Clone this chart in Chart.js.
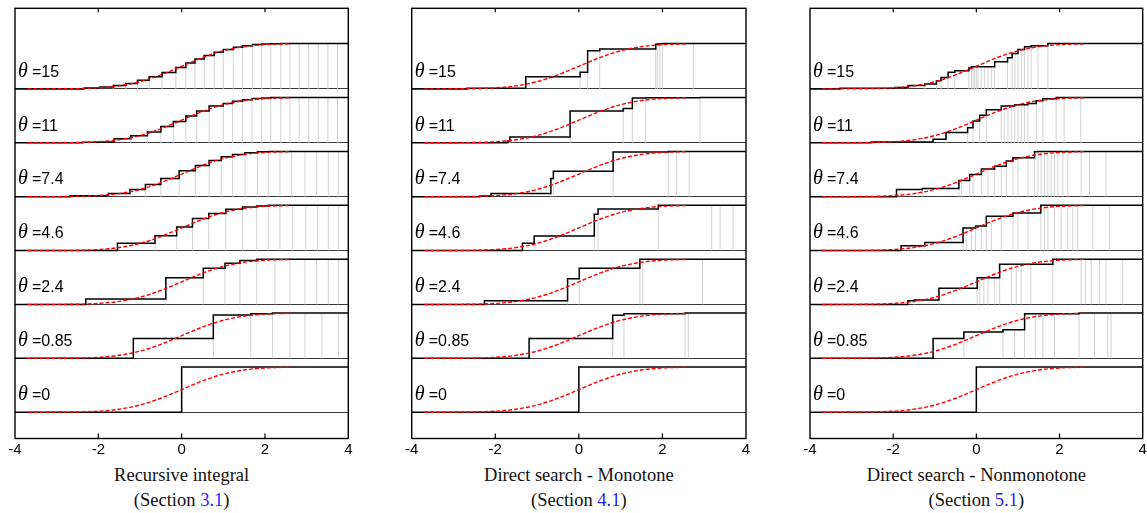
<!DOCTYPE html>
<html>
<head>
<meta charset="utf-8">
<script src="https://cdn.jsdelivr.net/npm/chart.js@4.4.1/dist/chart.umd.min.js"></script>
<style>
  body { margin: 0; background: #fff; width: 1147px; height: 513px; position: relative; overflow: hidden; }
  .panel { position: absolute; top: 0; }
  .cap { position: absolute; width: 360px; text-align: center; font-family: "Liberation Serif", "Times New Roman", serif;
         font-size: 18.5px; line-height: 18.5px; color: #111; white-space: nowrap; }
  .cap span { color: #1f1fff; }
</style>
</head>
<body>
<script>
// row labels, top to bottom
const thetaLabels = ['15', '11', '7.4', '4.6', '2.4', '0.85', '0'];
const xTicks = [-4, -2, 0, 2, 4];

// red dashed reference curve (same in every row)
const cdfX = [-3.7, -3.0, -2.5, -2.0, -1.5, -1.0, -0.5, 0.0, 0.5, 1.0, 1.5, 2.0, 2.6];
const cdfY = [0.0, 0.002, 0.006, 0.023, 0.067, 0.159, 0.309, 0.5, 0.691, 0.841, 0.933, 0.977, 0.995];

// Recursive integral - step locations and heights per row
const recKnots = [
  [-2.34, -1.96, -1.64, -1.34, -1.06, -0.78, -0.47, -0.14, 0.10, 0.32, 0.54, 0.78, 1.00, 1.24, 1.46, 1.70, 1.92, 2.14, 2.38, 2.60, 2.82, 3.05, 3.28, 3.51, 3.74],
  [-2.38, -2.00, -1.62, -1.22, -0.82, -0.50, -0.20, 0.10, 0.36, 0.66, 1.00, 1.22, 1.46, 1.69, 1.92, 2.14, 2.38, 2.60, 2.82, 3.05, 3.28, 3.51, 3.74],
  [-2.68, -1.76, -1.24, -0.87, -0.50, -0.06, 0.33, 0.66, 0.95, 1.22, 1.52, 1.82, 2.08, 2.36, 2.64, 2.96, 3.24, 3.52, 3.76],
  [-1.54, -0.64, -0.12, 0.26, 0.65, 1.06, 1.46, 1.80, 2.08, 2.36, 2.66, 2.98, 3.26, 3.52, 3.76],
  [-2.30, -0.38, 0.52, 1.04, 1.40, 1.80, 2.24, 2.60, 2.96, 3.24, 3.52, 3.76],
  [-1.16, 0.76, 1.66, 2.18, 2.60, 2.96, 3.37, 3.76],
  [0.0]
];
const recLevels = [
  [0.02, 0.04, 0.075, 0.12, 0.19, 0.27, 0.36, 0.47, 0.57, 0.66, 0.74, 0.81, 0.87, 0.92, 0.955, 0.98, 0.99, 0.996, 1, 1, 1, 1, 1, 1, 1],
  [0.01, 0.02, 0.09, 0.155, 0.24, 0.36, 0.47, 0.59, 0.70, 0.81, 0.87, 0.92, 0.95, 0.98, 0.99, 1, 1, 1, 1, 1, 1, 1, 1],
  [0.02, 0.07, 0.16, 0.27, 0.40, 0.57, 0.69, 0.80, 0.88, 0.93, 0.97, 0.99, 1, 1, 1, 1, 1, 1, 1],
  [0.16, 0.33, 0.52, 0.71, 0.82, 0.91, 0.96, 0.985, 1, 1, 1, 1, 1, 1, 1],
  [0.12, 0.59, 0.80, 0.91, 0.97, 1, 1, 1, 1, 1, 1, 1],
  [0.44, 0.955, 0.985, 1, 1, 1, 1, 1],
  [1]
];

// Direct search - Monotone
const monoKnots = [
  [-2.68, -1.27, 0.03, 0.21, 0.50, 1.84, 1.88, 1.94, 2.00, 2.74],
  [-1.71, -1.65, -0.21, 1.06, 1.28, 1.60, 2.90],
  [-2.37, -2.10, -0.67, -0.61, 0.82, 2.14, 2.34, 2.64],
  [-1.35, -1.07, 0.37, 0.46, 1.90, 3.18, 3.38, 3.69],
  [-2.26, -0.27, 0.01, 1.46, 1.53, 2.96],
  [-1.19, 0.81, 1.08, 2.54, 2.62],
  [0.0]
];
const monoLevels = [
  [0.015, 0.27, 0.37, 0.84, 0.88, 0.985, 0.99, 0.995, 1, 1],
  [0.04, 0.13, 0.70, 0.76, 0.99, 0.995, 1],
  [0.015, 0.07, 0.40, 0.56, 0.985, 0.995, 1, 1],
  [0.16, 0.32, 0.80, 0.92, 1, 1, 1, 1],
  [0.08, 0.57, 0.80, 1, 1, 1],
  [0.44, 0.95, 0.985, 1, 1],
  [1]
];

// Direct search - Nonmonotone
const nonKnots = [
  [-3.28, -1.96, -1.64, -1.24, -0.96, -0.85, -0.68, -0.52, -0.18, -0.12, -0.08, -0.04, 0.00, 0.04, 0.12, 0.20, 0.28, 0.36, 0.44, 0.75, 0.86, 0.93, 1.00, 1.08, 1.16, 1.24, 1.32, 1.48, 1.72],
  [-2.53, -1.04, -0.73, -0.21, -0.08, 0.08, 0.24, 0.60, 0.68, 0.76, 0.84, 0.92, 1.00, 1.08, 1.16, 1.24, 1.44, 1.60, 1.92, 2.11, 2.51],
  [-1.92, -1.30, -0.42, -0.36, -0.16, -0.08, 0.12, 0.28, 0.44, 0.60, 0.72, 0.88, 1.00, 1.24, 1.40, 1.48, 1.56, 1.64, 1.72, 1.80, 1.88, 1.96, 2.08, 2.20, 2.52, 2.72, 3.12],
  [-1.81, -1.24, -0.32, -0.24, -0.12, -0.02, 0.12, 0.24, 0.36, 0.60, 0.88, 1.00, 1.24, 1.55, 1.64, 1.72, 1.88, 2.04, 2.20, 2.32, 2.44, 2.80, 3.20],
  [-1.65, -1.49, -0.90, 0.02, 0.08, 0.18, 0.28, 0.44, 0.56, 0.84, 0.96, 1.08, 1.31, 1.84, 2.52, 2.62, 2.76, 2.96, 3.12, 3.52],
  [-1.04, -0.30, 0.64, 0.92, 1.16, 1.42, 1.60, 1.88, 2.47, 2.84, 3.16, 3.24],
  [0.0]
];
const nonLevels = [
  [0.015, 0.03, 0.075, 0.11, 0.18, 0.25, 0.37, 0.40, 0.46, 0.49, 0.49, 0.49, 0.49, 0.49, 0.49, 0.49, 0.49, 0.49, 0.60, 0.69, 0.78, 0.78, 0.87, 0.87, 0.93, 0.93, 0.955, 0.955, 1],
  [0.02, 0.08, 0.23, 0.33, 0.48, 0.61, 0.73, 0.81, 0.81, 0.81, 0.81, 0.84, 0.84, 0.84, 0.84, 0.87, 0.93, 0.97, 1, 1, 1],
  [0.16, 0.18, 0.36, 0.36, 0.49, 0.49, 0.61, 0.61, 0.67, 0.67, 0.79, 0.86, 0.86, 0.86, 0.99, 1, 1, 1, 1, 1, 1, 1, 1, 1, 1, 1, 1],
  [0.105, 0.18, 0.50, 0.50, 0.50, 0.54, 0.54, 0.76, 0.76, 0.76, 0.83, 0.83, 0.83, 1, 1, 1, 1, 1, 1, 1, 1, 1, 1],
  [0.08, 0.10, 0.36, 0.59, 0.59, 0.59, 0.59, 0.59, 0.89, 0.89, 0.89, 0.89, 0.89, 1, 1, 1, 1, 1, 1, 1],
  [0.44, 0.58, 0.63, 0.63, 0.985, 0.985, 0.985, 0.985, 1, 1, 1, 1],
  [1]
];

const ROW_GAP = 1.19;
const rowBase = thetaLabels.map((_, i) => (thetaLabels.length - 1 - i) * ROW_GAP);

const panels = [
  { knots: recKnots,  levels: recLevels,  left: 15,    right: 348.3, title: 'Recursive integral',          sec: '3.1' },
  { knots: monoKnots, levels: monoLevels, left: 411.7, right: 746,   title: 'Direct search - Monotone',    sec: '4.1' },
  { knots: nonKnots,  levels: nonLevels,  left: 810,   right: 1142.7, title: 'Direct search - Nonmonotone', sec: '5.1' }
];

const FRAME_TOP = 8.3;
const CANVAS_H = 454;
const AXIS_H = 15.5;

function stepData(knots, levels, base) {
  const pts = [{ x: -4, y: base }];
  knots.forEach((k, i) => pts.push({ x: k, y: base + levels[i] }));
  pts.push({ x: 4, y: base + levels[levels.length - 1] });
  return pts;
}

function spikeData(knots, levels, base) {
  const pts = [];
  knots.forEach((k, i) => {
    pts.push({ x: k, y: base }, { x: k, y: base + levels[i] }, { x: k, y: null });
  });
  return pts;
}

function cdfData(base) {
  return cdfX.map((x, i) => ({ x: x, y: base + cdfY[i] }));
}

const framePlugin = {
  id: 'frame',
  afterDatasetsDraw(chart) {
    const ctx = chart.ctx;
    const a = chart.chartArea;
    const x = chart.scales.x, y = chart.scales.y;
    ctx.save();
    ctx.strokeStyle = '#000';
    ctx.lineWidth = 1.4;
    ctx.strokeRect(a.left, a.top, a.right - a.left, a.bottom - a.top);
    ctx.lineWidth = 1.2;
    xTicks.slice(1, -1).forEach(v => {
      const px = x.getPixelForValue(v);
      ctx.beginPath();
      ctx.moveTo(px, a.bottom); ctx.lineTo(px, a.bottom - 5);
      ctx.moveTo(px, a.top); ctx.lineTo(px, a.top + 4);
      ctx.stroke();
    });
    ctx.fillStyle = '#000';
    ctx.textBaseline = 'alphabetic';
    thetaLabels.forEach((t, i) => {
      const py = y.getPixelForValue(rowBase[i] + 0.27);
      ctx.font = 'italic 20px "Liberation Serif", serif';
      ctx.fillText('\u03b8', a.left + 3, py);
      ctx.font = '16px "Liberation Sans", Arial, sans-serif';
      ctx.fillText('=' + t, a.left + 17, py);
    });
    ctx.restore();
  }
};

panels.forEach(p => {
  const cLeft = Math.floor(p.left) - 14;
  const cWidth = Math.ceil(p.right) + 14 - cLeft;
  const div = document.createElement('div');
  div.className = 'panel';
  div.style.left = cLeft + 'px';
  const canvas = document.createElement('canvas');
  canvas.width = cWidth;
  canvas.height = CANVAS_H;
  div.appendChild(canvas);
  document.body.appendChild(div);

  const datasets = [];
  rowBase.forEach((base, i) => {
    datasets.push({
      data: cdfData(base), borderColor: '#ff0000', borderWidth: 1.4, borderDash: [4, 2],
      cubicInterpolationMode: 'monotone', order: 0
    });
    datasets.push({
      data: stepData(p.knots[i], p.levels[i], base), borderColor: '#000', borderWidth: 1.5,
      stepped: true, order: 1
    });
    datasets.push({
      data: spikeData(p.knots[i], p.levels[i], base), borderColor: '#d2d2d2', borderWidth: 1,
      spanGaps: false, order: 2
    });
  });

  new Chart(canvas, {
    type: 'line',
    data: { datasets: datasets },
    options: {
      responsive: false,
      animation: false,
      devicePixelRatio: 1,
      events: [],
      layout: { padding: { left: p.left - cLeft, right: cLeft + cWidth - p.right, top: FRAME_TOP, bottom: 0 } },
      plugins: { legend: { display: false }, tooltip: { enabled: false } },
      elements: { point: { radius: 0, hitRadius: 0 }, line: { tension: 0 } },
      scales: {
        x: {
          type: 'linear', min: -4, max: 4,
          afterBuildTicks: s => { s.ticks = xTicks.map(v => ({ value: v })); },
          afterFit: s => { s.height = AXIS_H; },
          grid: { display: false, drawTicks: false },
          border: { display: false },
          ticks: { padding: 2.5, color: '#000', autoSkip: false, maxRotation: 0,
                   font: { family: '"Liberation Sans", Arial, sans-serif', size: 15 } }
        },
        y: {
          type: 'linear', min: -0.58, max: 8.92,
          afterBuildTicks: s => { s.ticks = rowBase.map(v => ({ value: v })); },
          afterFit: s => { s.width = 0; },
          grid: { color: '#3a3a3a', lineWidth: 1, drawTicks: false },
          border: { display: false },
          ticks: { display: false }
        }
      }
    },
    plugins: [framePlugin]
  });

  const mid = (p.left + p.right) / 2;
  const t = document.createElement('div');
  t.className = 'cap';
  t.style.left = (mid - 180) + 'px';
  t.style.top = '466px';
  t.textContent = p.title;
  document.body.appendChild(t);
  const s = document.createElement('div');
  s.className = 'cap';
  s.style.left = (mid - 180) + 'px';
  s.style.top = '491px';
  s.innerHTML = '(Section <span>' + p.sec + '</span>)';
  document.body.appendChild(s);
});
</script>
</body>
</html>
